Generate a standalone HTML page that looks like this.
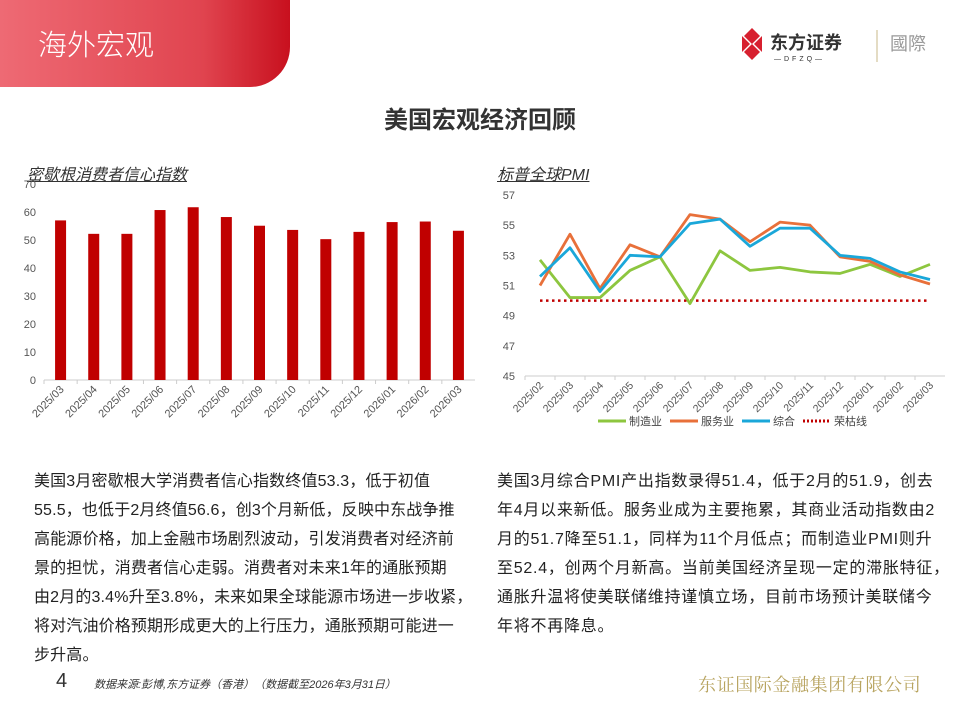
<!DOCTYPE html>
<html><head><meta charset="utf-8">
<style>
*{margin:0;padding:0;box-sizing:border-box}
body{width:960px;height:720px;background:#fff;position:relative;overflow:hidden;font-family:"Liberation Sans","Noto Sans CJK SC",sans-serif;color:#222}
.hdr{position:absolute;left:0;top:0;width:290px;height:87px;border-bottom-right-radius:40px;background:linear-gradient(90deg,#ee6a74,#e0444f 70%,#c8101e)}
.hdr span{position:absolute;left:38px;top:22px;font-size:29px;color:#fff;font-family:"Noto Sans CJK SC",sans-serif;font-weight:300}
.title{position:absolute;left:0;width:960px;top:100px;text-align:center;font-size:24px;font-weight:bold;color:#333}
.ctitle{position:absolute;font-size:16px;font-style:italic;color:#333;text-decoration:underline}
.para{position:absolute;font-size:16px;line-height:29px;color:#222;white-space:nowrap}
svg text{font-family:"Liberation Sans","Noto Sans CJK SC",sans-serif}
</style></head><body>
<div class="hdr"><span>海外宏观</span></div>
<div style="position:absolute;left:740px;top:26px;width:200px;height:38px">
<svg width="200" height="38"><g fill="#d7202f"><polygon points="12,2 20,10 12,18 4,10"/><polygon points="12,18 20,26 12,34 4,26"/><polygon points="2,10 10,18 2,26"/><polygon points="22,10 22,26 14,18"/></g>
<text x="30" y="23" font-size="18" font-weight="bold" fill="#333">东方证券</text>
<text x="34" y="35" font-size="7" fill="#333" letter-spacing="3">—DFZQ—</text>
<line x1="137" y1="4" x2="137" y2="36" stroke="#c9b98a"/>
<text x="150" y="24" font-size="18" fill="#999">國際</text></svg></div>
<div class="title">美国宏观经济回顾</div>
<div class="ctitle" style="left:27px;top:161px">密歇根消费者信心指数</div>
<div class="ctitle" style="left:497px;top:161px">标普全球PMI</div>
<svg id="bar" style="position:absolute;left:0;top:170px" width="480" height="270"></svg>
<svg id="line" style="position:absolute;left:480px;top:170px" width="480" height="270"></svg>
<div class="para" style="left:34px;top:467px;letter-spacing:0.15px">美国3月密歇根大学消费者信心指数终值53.3，低于初值<br>55.5，也低于2月终值56.6，创3个月新低，反映中东战争推<br>高能源价格，加上金融市场剧烈波动，引发消费者对经济前<br>景的担忧，消费者信心走弱。消费者对未来1年的通胀预期<br>由2月的3.4%升至3.8%，未来如果全球能源市场进一步收紧，<br>将对汽油价格预期形成更大的上行压力，通胀预期可能进一<br>步升高。</div>
<div class="para" style="left:497px;top:467px;letter-spacing:0.75px">美国3月综合PMI产出指数录得51.4，低于2月的51.9，创去<br>年4月以来新低。服务业成为主要拖累，其商业活动指数由2<br>月的51.7降至51.1，同样为11个月低点；而制造业PMI则升<br>至52.4，创两个月新高。当前美国经济呈现一定的滞胀特征，<br>通胀升温将使美联储维持谨慎立场，目前市场预计美联储今<br>年将不再降息。</div>
<div style="position:absolute;left:56px;top:670px;font-size:20px;color:#333">4</div>
<div style="position:absolute;left:94px;top:676px;font-size:11px;font-style:italic;color:#333">数据来源:彭博,东方证券（香港）　（数据截至2026年3月31日）</div>
<div style="position:absolute;left:698px;top:671px;font-size:18px;color:#b8a460;letter-spacing:0.6px;font-family:'Noto Serif CJK SC',serif">东证国际金融集团有限公司</div>
<script>
const barCats=["2025/03","2025/04","2025/05","2025/06","2025/07","2025/08","2025/09","2025/10","2025/11","2025/12","2026/01","2026/02","2026/03"];
const barVals=[57.0,52.2,52.2,60.7,61.7,58.2,55.1,53.6,50.3,52.9,56.4,56.6,53.3];
const barTicks=[0,10,20,30,40,50,60,70];
const lineCats=["2025/02","2025/03","2025/04","2025/05","2025/06","2025/07","2025/08","2025/09","2025/10","2025/11","2025/12","2026/01","2026/02","2026/03"];
const mfg=[52.7,50.2,50.2,52.0,52.9,49.8,53.3,52.0,52.2,51.9,51.8,52.4,51.6,52.4];
const svc=[51.0,54.4,50.8,53.7,52.9,55.7,55.4,53.9,55.2,55.0,52.9,52.6,51.7,51.1];
const comp=[51.6,53.5,50.6,53.0,52.9,55.1,55.4,53.6,54.8,54.8,53.0,52.8,51.9,51.4];
const boomBust=50;
const lineTicks=[45,47,49,51,53,55,57];
const NS="http://www.w3.org/2000/svg";
function mk(p,t,a){const e=document.createElementNS(NS,t);for(const k in a)e.setAttribute(k,a[k]);p.appendChild(e);return e;}
(function(){
 const s=document.getElementById('bar');
 const x0=44,x1=475,yb=210,yt=14,max=70;
 const y=v=>yb-(v/max)*(yb-yt);
 const bw=(x1-x0)/barCats.length;
 barTicks.forEach(t=>{const e=mk(s,'text',{x:36,y:y(t)+4,'font-size':11,fill:'#555','text-anchor':'end'});e.textContent=t;
 
 });
 mk(s,'line',{x1:x0,y1:yb,x2:x1,y2:yb,stroke:'#ccc'});
 barCats.forEach((c,i)=>{
  const cx=x0+bw*(i+.5);
  const r=mk(s,'rect',{x:cx-5.5,y:y(barVals[i]),width:11,height:yb-y(barVals[i]),fill:'#c00000'});
  
  
  mk(s,'line',{x1:x0+bw*i,y1:yb,x2:x0+bw*i,y2:yb+4,stroke:'#ccc'});
  const t=mk(s,'text',{x:cx+4,y:yb+10,'font-size':11,fill:'#555','text-anchor':'end',transform:`rotate(-45 ${cx+4} ${yb+10})`});t.textContent=c;
  
  
 });
})();
(function(){
 const s=document.getElementById('line');
 const x0=45,x1=465,yb=206,yt=25,mn=45,mx=57;
 const y=v=>yb-(v-mn)/(mx-mn)*(yb-yt);
 const bw=(x1-x0)/lineCats.length;
 const x=i=>x0+bw*(i+.5);
 lineTicks.forEach(t=>{const e=mk(s,'text',{x:35,y:y(t)+4,'font-size':11,fill:'#555','text-anchor':'end'});e.textContent=t;
 
 });
 mk(s,'line',{x1:x0,y1:yb,x2:x1,y2:yb,stroke:'#ccc'});
 lineCats.forEach((c,i)=>{
  mk(s,'line',{x1:x0+bw*i,y1:yb,x2:x0+bw*i,y2:yb+4,stroke:'#ccc'});
  const t=mk(s,'text',{x:x(i)+4,y:yb+10,'font-size':10.5,fill:'#555','text-anchor':'end',transform:`rotate(-45 ${x(i)+4} ${yb+10})`});t.textContent=c;
  
  
 });
 const bl=mk(s,'line',{x1:x(0),y1:y(boomBust),x2:x(lineCats.length-1),y2:y(boomBust),stroke:'#c00000','stroke-width':2.5,'stroke-dasharray':'2.5 3.5'});
 
 
 [[mfg,'#8dc63f','manufacturing-line'],[svc,'#e8703a','services-line'],[comp,'#1aa7d9','composite-line']].forEach(([d,c,n])=>{
  const p=mk(s,'polyline',{points:d.map((v,i)=>x(i)+','+y(v)).join(' '),fill:'none',stroke:c,'stroke-width':2.8,'stroke-linejoin':'round'});
  
  
 });
 const lg=[['制造业','#8dc63f',false],['服务业','#e8703a',false],['综合','#1aa7d9',false],['荣枯线','#c00000',true]];
 let lx=118;
 lg.forEach(([t,c,dot])=>{
  const g=mk(s,'g',{});
  
  
  mk(g,'line',{x1:lx,y1:251,x2:lx+28,y2:251,stroke:c,'stroke-width':3,'stroke-dasharray':dot?'2 2':'none'});
  const e=mk(g,'text',{x:lx+31,y:255,'font-size':11,fill:'#444'});e.textContent=t;
  lx+=31+t.length*11+8;
 });
})();
</script>
</body></html>
